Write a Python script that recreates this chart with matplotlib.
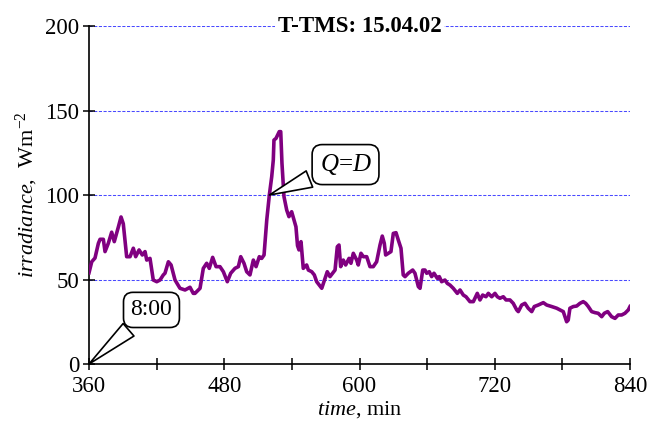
import matplotlib
matplotlib.use("Agg")
import matplotlib.pyplot as plt
from matplotlib.ticker import MultipleLocator

plt.rcParams['font.family'] = ['Liberation Serif', 'DejaVu Serif']
plt.rcParams['mathtext.fontset'] = 'custom'
plt.rcParams['mathtext.rm'] = 'Liberation Serif'
plt.rcParams['mathtext.it'] = 'Liberation Serif:italic'
plt.rcParams['mathtext.bf'] = 'Liberation Serif:bold'

time_min = [360.0, 362.4, 365.3, 368.3, 369.8, 372.7, 374.2, 377.1, 380.1, 382.4,
            386.0, 388.4, 390.4, 393.4, 396.4, 399.3, 401.4, 404.4, 407.3, 409.7,
            411.2, 414.1, 417.0, 420.1, 423.0, 425.9, 427.4, 430.4, 432.8, 436.3,
            440.7, 445.2, 449.6, 452.5, 454.0, 458.5, 461.4, 464.4, 466.7, 469.7,
            472.7, 476.2, 479.2, 482.7, 485.7, 489.5, 492.5, 494.6, 497.5, 499.9,
            502.8, 505.8, 508.2, 511.1, 513.2, 515.3, 517.7, 520.0, 522.1, 523.5,
            524.1, 525.9, 528.8, 530.1, 531.2, 533.0, 535.4, 537.4, 539.8, 541.9,
            543.6, 545.0, 546.3, 548.1, 550.1, 553.1, 554.6, 557.6, 559.9, 562.0,
            566.5, 569.4, 571.4, 573.8, 578.3, 580.3, 581.8, 583.3, 585.6, 587.7,
            590.7, 592.4, 594.5, 597.5, 598.9, 601.3, 603.4, 606.4, 609.3, 612.2,
            615.2, 618.2, 620.2, 622.0, 623.2, 625.5, 627.9, 630.0, 632.4, 634.4,
            636.8, 638.8, 640.4, 643.3, 647.2, 649.2, 652.2, 653.7, 656.1, 658.1,
            659.6, 661.9, 664.0, 666.1, 669.0, 670.8, 672.9, 675.8, 677.9, 680.3,
            683.2, 686.8, 689.2, 692.1, 694.5, 698.0, 701.0, 704.5, 706.9, 709.3,
            712.2, 714.3, 717.3, 720.2, 722.3, 724.6, 727.6, 730.0, 733.5, 736.4,
            739.5, 740.9, 743.9, 746.8, 749.7, 752.8, 755.1, 758.6, 763.1, 766.1,
            770.5, 775.0, 777.9, 780.8, 782.3, 783.8, 785.2, 786.7, 789.7, 792.7,
            795.6, 798.5, 800.7, 803.0, 806.0, 808.9, 811.8, 814.9, 817.2, 820.2,
            823.7, 826.7, 829.6, 832.6, 835.5, 838.5, 840.0]

irradiance = [54.0, 60.5, 62.7, 71.4, 73.8, 73.8, 66.5, 71.4, 78.0, 72.4,
              81.0, 87.0, 83.0, 63.5, 63.5, 68.5, 63.5, 67.5, 64.5, 66.5,
              61.5, 62.5, 49.7, 48.7, 49.7, 52.7, 53.7, 60.5, 58.6, 49.7,
              44.8, 43.8, 45.4, 41.8, 41.8, 44.8, 56.6, 59.6, 56.6, 63.1,
              57.6, 57.6, 54.6, 48.7, 53.7, 56.6, 57.6, 63.5, 59.6, 54.6,
              52.7, 61.5, 57.6, 63.5, 62.5, 64.5, 85.2, 100.0, 110.8, 120.7,
              132.5, 133.5, 137.5, 137.5, 118.7, 99.0, 91.1, 87.2, 90.1, 85.2,
              81.2, 70.0, 67.5, 72.4, 56.6, 58.6, 55.6, 54.6, 52.7, 48.7,
              44.8, 50.7, 54.6, 51.7, 55.6, 69.4, 70.4, 57.6, 61.5, 58.6,
              62.5, 59.6, 65.5, 61.5, 58.6, 65.5, 63.5, 63.5, 57.6, 57.6,
              60.5, 70.4, 75.7, 71.4, 64.5, 65.5, 66.5, 77.3, 77.7, 73.4,
              68.5, 52.7, 51.7, 53.7, 55.6, 53.7, 45.8, 44.8, 55.6, 55.6,
              53.7, 54.6, 51.7, 53.7, 50.7, 51.7, 48.7, 49.7, 47.7, 46.7,
              44.8, 41.8, 43.8, 40.8, 39.8, 36.9, 36.9, 41.8, 37.9, 40.8,
              39.8, 41.8, 39.8, 41.8, 39.8, 38.9, 39.8, 37.9, 37.9, 35.9,
              32.0, 31.0, 34.9, 35.9, 33.0, 31.0, 34.0, 34.9, 36.3, 34.9,
              34.0, 33.0, 32.0, 31.0, 28.0, 25.0, 26.0, 33.0, 34.0, 34.3,
              35.9, 36.9, 35.9, 34.0, 31.0, 30.4, 30.0, 28.0, 30.0, 31.0,
              28.0, 27.0, 29.0, 29.0, 30.0, 32.0, 34.0]

x_ticks = [360, 480, 600, 720, 840]
y_ticks = [0, 50, 100, 150, 200]
title_text = "T-TMS: 15.04.02"
label_start = "8:00"
label_eq = "$Q$=$D$"

fig = plt.figure(figsize=(6.47, 4.21), dpi=100)
ax = fig.add_axes([0.1376, 0.1354, 0.8361, 0.8028])

ax.set_xlim(360, 840)
ax.set_ylim(0, 200)

for y in y_ticks[1:]:
    ax.axhline(y, color='#4a4aff', lw=0.75, ls=(0, (3, 1.5)), zorder=1)

ax.plot(time_min, irradiance, color='#000080', lw=1.2, zorder=2)
ax.plot(time_min, irradiance, color='#800080', lw=2.6, zorder=3,
        solid_joinstyle='round')

ax.spines['top'].set_visible(False)
ax.spines['right'].set_visible(False)
ax.spines['left'].set_linewidth(1.2)
ax.spines['bottom'].set_linewidth(1.2)

ax.set_xticks(x_ticks)
ax.xaxis.set_minor_locator(MultipleLocator(60))
ax.set_yticks(y_ticks)
ax.tick_params(axis='both', which='both', direction='inout', length=8,
               width=1.1, labelsize=16.5)
ax.tick_params(axis='x', pad=5)
ax.tick_params(axis='y', pad=3)

ax.set_xlabel("$\\it{time}$, min", fontsize=16, labelpad=1)
ax.set_ylabel("$\\it{irradiance}$,  Wm$^{-2}$", fontsize=16, labelpad=4)

ax.text(0.5, 1.0, title_text, transform=ax.transAxes, ha='center', va='center',
        fontsize=16.5, fontweight='bold',
        bbox=dict(boxstyle='square,pad=0.1', fc='white', ec='none'), zorder=5)

ax.annotate(label_start, xy=(360, 0), xytext=(415.4, 32), ha='center', va='center',
            fontsize=17,
            bbox=dict(boxstyle='round,pad=0.3,rounding_size=0.4', fc='white', ec='black', lw=1.2),
            arrowprops=dict(arrowstyle='wedge,tail_width=0.7,shrink_factor=0.5',
                            fc='white', ec='black', lw=1.2, shrinkB=0),
            zorder=6)

ax.annotate(label_eq, xy=(520.1, 100), xytext=(587.6, 118), ha='center', va='center',
            fontsize=18,
            bbox=dict(boxstyle='round,pad=0.3,rounding_size=0.4', fc='white', ec='black', lw=1.2),
            arrowprops=dict(arrowstyle='wedge,tail_width=0.7,shrink_factor=0.5',
                            fc='white', ec='black', lw=1.2, shrinkB=0),
            zorder=6)

fig.savefig("out.png", dpi=100)
